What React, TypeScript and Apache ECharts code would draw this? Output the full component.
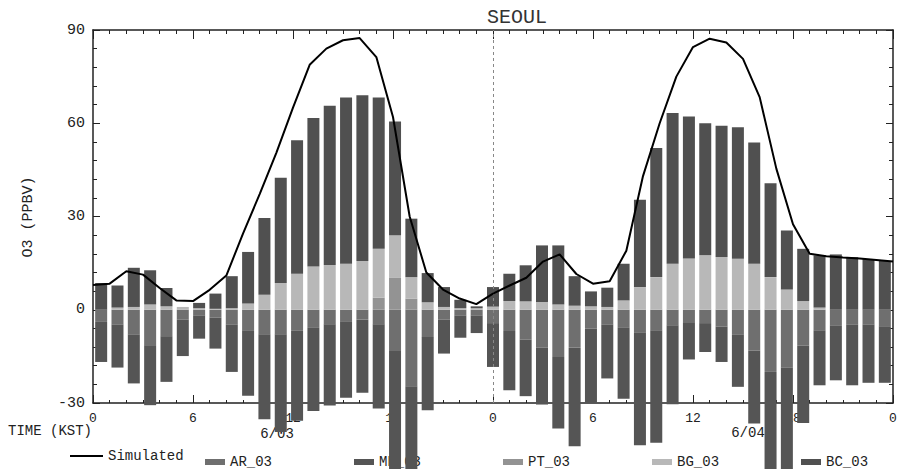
import React, { useEffect, useRef } from 'react';
import * as echarts from 'echarts';

// hour of the simulated line points (0 .. 48, two days)
const HOURS = [
  0, 1, 2, 3, 4, 5, 6, 7, 8, 9, 10, 11, 12, 13, 14, 15, 16, 17, 18, 19, 20, 21, 22, 23,
  24, 25, 26, 27, 28, 29, 30, 31, 32, 33, 34, 35, 36, 37, 38, 39, 40, 41, 42, 43, 44, 45, 46, 47, 48,
];
// bar slots: one per hour, 49 slots spread over the axis
const BAR_CATEGORIES = HOURS.map((h) => (h < 24 ? '6/03 ' : '6/04 ') + String(h % 24).padStart(2, '0'));
const X_TICK_LABELS = ['0', '6', '12', '18', '0', '6', '12', '18', '0'];

const SIMULATED = [
  8.0, 8.4, 12.4, 11.3, 7.0, 3.0, 2.8, 6.4, 11.0, 24.5, 37.2, 50.5, 65.0, 78.8, 84.0, 86.7, 87.4,
  81.3, 62.0, 30.0, 12.0, 6.5, 3.6, 1.8, 5.2, 7.8, 10.3, 15.5, 17.8, 11.5, 8.4, 9.2, 19.0, 43.0,
  60.0, 75.0, 84.5, 87.2, 86.0, 80.7, 68.4, 45.4, 27.5, 18.0, 17.2, 16.8, 16.5, 16.0, 15.5,
];

const AR_03 = [
  -3.9, -4.7, -7.9, -11.4, -8.5, -3.2, -1.8, -2.5, -4.7, -6.6, -7.9, -7.9, -6.8, -5.6, -4.7, -3.7,
  -3.1, -4.7, -13.3, -24.6, -8.8, -3.2, -1.8, -1.8, -4.3, -6.8, -9.6, -12.2, -15.2, -12.2, -6.1,
  -4.7, -5.6, -7.2, -6.6, -5.0, -4.0, -4.3, -5.4, -7.9, -13.1, -20.0, -18.6, -11.5, -6.6, -5.0,
  -4.7, -4.7, -5.3,
];
const MB_03 = [
  -12.9, -13.9, -15.8, -19.3, -14.7, -11.7, -7.5, -10.0, -15.3, -21.1, -27.3, -31.4, -28.9, -27.0,
  -26.1, -24.6, -23.6, -27.1, -39.7, -28.4, -23.5, -10.9, -7.2, -5.7, -14.1, -19.1, -18.2, -18.3,
  -23.0, -31.7, -23.9, -17.4, -23.0, -36.4, -36.2, -25.4, -12.0, -9.3, -11.4, -16.9, -23.5, -35.0,
  -36.4, -24.9, -17.7, -17.7, -19.6, -18.8, -18.2,
];
const PT_03 = [
  0, 0, 0, 0, 0, 0, 0, 0, 0, 0, 0, 0, 0, 0, 0, 0, 0, 3.9, 10.4, 3.6, 0, 0, 0, 0, 0, 0, 0, 0, 0, 0,
  0, 0, 0, 0, 0, 0, 0, 0, 0, 0, 0, 0, 0, 0, 0, 0, 0, 0, 0,
];
const BG_03 = [
  0, 0.7, 0.9, 1.7, 1.1, 0.9, 0.5, 0.3, 0.5, 2.0, 4.8, 8.6, 11.6, 13.9, 14.4, 14.8, 15.7, 15.7,
  13.6, 6.9, 2.4, 0.9, 0.5, 0.5, 1.0, 2.8, 2.7, 2.5, 1.7, 1.3, 1.1, 0.9, 3.0, 7.3, 10.5, 14.8,
  16.5, 17.5, 17.0, 16.4, 14.8, 10.5, 6.5, 2.8, 0.7, 0, 0, 0, 0,
];
const BC_03 = [
  8.6, 7.1, 12.6, 11.0, 5.9, 0, 1.7, 4.9, 10.3, 16.6, 24.7, 33.9, 42.9, 47.8, 51.2, 53.5, 53.3,
  48.7, 36.6, 18.8, 9.4, 6.4, 2.7, 0.6, 6.3, 8.8, 11.6, 18.2, 19.0, 9.5, 4.8, 6.2, 11.8, 28.1,
  41.5, 48.5, 45.7, 42.5, 42.2, 42.3, 39.0, 30.2, 19.0, 16.8, 16.8, 17.8, 16.9, 16.3, 15.7,
];

const FONT = '"Liberation Mono", "DejaVu Sans Mono", monospace';
const INK = '#222';

export default function App() {
  const ref = useRef<HTMLDivElement>(null);

  useEffect(() => {
    if (!ref.current) return;
    const chart = echarts.init(ref.current, null, { renderer: 'svg' });

    const barSeries = (name: string, data: number[], color: string) => ({
      name,
      type: 'bar',
      stack: 'o3',
      xAxisIndex: 2,
      yAxisIndex: 0,
      barWidth: 12,
      clip: false,
      z: 3,
      data,
      itemStyle: { color },
    });

    const valueXAxis = (position: 'top' | 'bottom', showLabel: boolean, major: number, minor: number) => ({
      type: 'value',
      min: 0,
      max: 48,
      interval: 6,
      position,
      axisLine: { show: true, onZero: false, lineStyle: { color: INK, width: 1.5 } },
      axisTick: { show: true, inside: true, length: major, lineStyle: { color: INK } },
      minorTick: { show: true, splitNumber: 6, length: minor, lineStyle: { color: INK } },
      splitLine: { show: false },
      minorSplitLine: { show: false },
      axisLabel: {
        show: showLabel,
        margin: 9,
        fontFamily: FONT,
        fontSize: 13,
        color: INK,
        formatter: (v: number) => X_TICK_LABELS[Math.round(v / 6)] ?? '',
      },
    });

    const valueYAxis = (position: 'left' | 'right', showLabel: boolean) => ({
      type: 'value',
      min: -30,
      max: 90,
      interval: 30,
      position,
      axisLine: { show: true, onZero: false, lineStyle: { color: INK, width: 1.5 } },
      axisTick: { show: true, inside: true, length: 7, lineStyle: { color: INK } },
      minorTick: { show: true, splitNumber: 5, length: 4, lineStyle: { color: INK } },
      splitLine: { show: false },
      minorSplitLine: { show: false },
      axisLabel: { show: showLabel, margin: 8, fontFamily: FONT, fontSize: 15, color: INK },
    });

    chart.setOption({
      animation: false,
      backgroundColor: '#fff',
      grid: { left: 93, right: 7, top: 30, bottom: 66, containLabel: false },
      xAxis: [
        valueXAxis('bottom', true, 8, 3),
        valueXAxis('top', false, 9, 4),
        { type: 'category', data: BAR_CATEGORIES, show: false, position: 'bottom', boundaryGap: true },
      ],
      yAxis: [valueYAxis('left', true), valueYAxis('right', false)],
      legend: [
        {
          z: 1,
          left: 65,
          top: 444,
          itemWidth: 33,
          itemHeight: 2,
          selectedMode: false,
          textStyle: { fontFamily: FONT, fontSize: 14, color: INK },
          data: [{ name: 'Simulated', icon: 'rect' }],
        },
        {
          z: 1,
          left: 200,
          top: 450,
          itemWidth: 20,
          itemHeight: 6,
          itemGap: 82,
          icon: 'rect',
          selectedMode: false,
          textStyle: { fontFamily: FONT, fontSize: 14, color: INK },
          data: ['AR_03', 'MB_03', 'PT_03', 'BG_03', 'BC_03'],
        },
      ],
      graphic: [
        {
          type: 'text',
          x: 487,
          y: 17,
          style: { text: 'SEOUL', fill: '#333', font: `20px ${FONT}`, align: 'left', verticalAlign: 'middle' },
        },
        {
          type: 'text',
          x: 28,
          y: 217,
          rotation: Math.PI / 2,
          style: { text: 'O3 (PPBV)', fill: INK, font: `15px ${FONT}`, align: 'center', verticalAlign: 'middle' },
        },
        {
          type: 'text',
          x: 8,
          y: 431,
          style: { text: 'TIME (KST)', fill: INK, font: `14px ${FONT}`, align: 'left', verticalAlign: 'middle' },
        },
        {
          type: 'text',
          x: 277,
          y: 434,
          style: { text: '6/03', fill: INK, font: `14px ${FONT}`, align: 'center', verticalAlign: 'middle' },
        },
        {
          type: 'text',
          x: 748,
          y: 433,
          style: { text: '6/04', fill: INK, font: `14px ${FONT}`, align: 'center', verticalAlign: 'middle' },
        },
      ],
      series: [
        barSeries('AR_03', AR_03, '#6f6f6f'),
        barSeries('PT_03', PT_03, '#939393'),
        barSeries('BG_03', BG_03, '#b8b8b8'),
        barSeries('MB_03', MB_03, '#555555'),
        barSeries('BC_03', BC_03, '#505050'),
        {
          name: 'Simulated',
          type: 'line',
          xAxisIndex: 0,
          yAxisIndex: 0,
          z: 5,
          symbol: 'none',
          showSymbol: false,
          data: HOURS.map((h, i) => [h, SIMULATED[i]]),
          lineStyle: { color: '#000', width: 2 },
          itemStyle: { color: '#000' },
          markLine: {
            silent: true,
            symbol: 'none',
            label: { show: false },
            lineStyle: { color: '#888', type: [3, 3], width: 1 },
            data: [{ xAxis: 24 }],
          },
        },
      ],
    });

    return () => chart.dispose();
  }, []);

  return (
    <div
      ref={ref}
      style={{ position: 'fixed', left: 0, top: 0, width: 900, height: 469, background: '#fff' }}
    />
  );
}
